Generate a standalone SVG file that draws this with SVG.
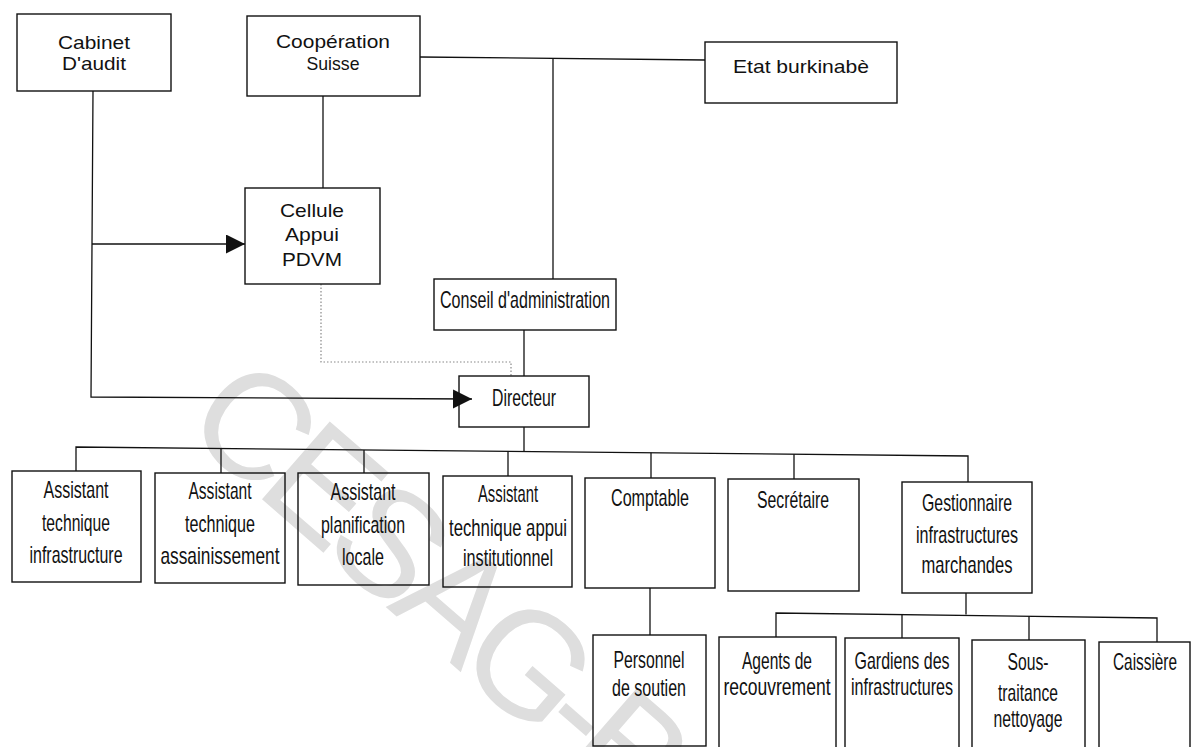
<svg xmlns="http://www.w3.org/2000/svg" width="1200" height="747" viewBox="0 0 1200 747">
  <style>
    .box { fill: none; stroke: #111; stroke-width: 1.4; }
    .ln { fill: none; stroke: #111; stroke-width: 1.3; }
    .dot { fill: none; stroke: #888; stroke-width: 1.2; stroke-dasharray: 1.5 2; }
    text { font-family: "Liberation Sans", Arial, sans-serif; fill: #111; text-anchor: middle; }
    .t { font-size: 19px; }
    .n { font-size: 24px; }
    .wm { font-family: "Liberation Sans", Arial, sans-serif; font-size: 150px; letter-spacing: -12px; fill: #dedede; text-anchor: start; }
  </style>
  <defs>
    <marker id="arrow" markerUnits="userSpaceOnUse" markerWidth="20" markerHeight="20" refX="19" refY="9.5" orient="auto">
      <path d="M0,0 L19,9.5 L0,19 Z" fill="#111"/>
    </marker>
  </defs>

  <rect width="1200" height="747" fill="#fff"/>

  <!-- background stamp -->
  <text class="wm" transform="translate(180,428) rotate(41)">CESAG-BIBLIOTHEQUE</text>

  <!-- connectors -->
  <g id="connectors">
    <path class="ln" d="M420,57 L705,60"/>
    <path class="ln" d="M553,58 V279"/>
    <path class="ln" d="M323,96 V188"/>
    <path class="ln" d="M93,91 L91,397 L472,399" marker-end="url(#arrow)"/>
    <path class="ln" d="M92,244 L245,244" marker-end="url(#arrow)"/>
    <path class="ln" d="M524,330 V376"/>
    <path class="dot" d="M321,284 V362 H511 V376"/>
    <path class="ln" d="M524,427 V451.5"/>
    <path class="ln" d="M76,471 V447 L968,456 V482"/>
    <path class="ln" d="M221,448.5 V473"/>
    <path class="ln" d="M364,449.9 V473"/>
    <path class="ln" d="M508,451.4 V476"/>
    <path class="ln" d="M651,452.8 V478"/>
    <path class="ln" d="M794,454.2 V479"/>
    <path class="ln" d="M650,588 V635"/>
    <path class="ln" d="M966,593 V614.5"/>
    <path class="ln" d="M776,637 V613 L1157,618 V642"/>
    <path class="ln" d="M902,614.6 V638"/>
    <path class="ln" d="M1029,616.3 V640"/>
  </g>

  <g id="cabinet">
    <rect class="box" x="17" y="14" width="154" height="77"/>
    <text class="t" x="94" y="49" textLength="72" lengthAdjust="spacingAndGlyphs">Cabinet</text>
    <text class="t" x="94" y="70" textLength="64" lengthAdjust="spacingAndGlyphs">D'audit</text>
  </g>
  <g id="cooperation">
    <rect class="box" x="247" y="16" width="173" height="80"/>
    <text class="t" x="333" y="48" textLength="114" lengthAdjust="spacingAndGlyphs">Coopération</text>
    <text class="t" x="333" y="70" textLength="53" lengthAdjust="spacingAndGlyphs">Suisse</text>
  </g>
  <g id="etat">
    <rect class="box" x="705" y="42" width="192" height="61"/>
    <text class="t" x="801" y="73" textLength="136" lengthAdjust="spacingAndGlyphs">Etat burkinabè</text>
  </g>
  <g id="cellule">
    <rect class="box" x="245" y="188" width="135" height="96"/>
    <text class="t" x="312" y="217" textLength="64" lengthAdjust="spacingAndGlyphs">Cellule</text>
    <text class="t" x="312" y="241" textLength="54" lengthAdjust="spacingAndGlyphs">Appui</text>
    <text class="t" x="312" y="266" textLength="60" lengthAdjust="spacingAndGlyphs">PDVM</text>
  </g>
  <g id="conseil">
    <rect class="box" x="434" y="279" width="182" height="51"/>
    <text class="n" x="525" y="308" textLength="170" lengthAdjust="spacingAndGlyphs">Conseil d'administration</text>
  </g>
  <g id="directeur">
    <rect class="box" x="459" y="376" width="130" height="51"/>
    <text class="n" x="524" y="406" textLength="64" lengthAdjust="spacingAndGlyphs">Directeur</text>
  </g>

  <g id="assistant-infrastructure">
    <rect class="box" x="12" y="471" width="129" height="111"/>
    <text class="n" x="76" y="498" textLength="65" lengthAdjust="spacingAndGlyphs">Assistant</text>
    <text class="n" x="76" y="531" textLength="68" lengthAdjust="spacingAndGlyphs">technique</text>
    <text class="n" x="76" y="563" textLength="93" lengthAdjust="spacingAndGlyphs">infrastructure</text>
  </g>
  <g id="assistant-assainissement">
    <rect class="box" x="155" y="473" width="130" height="110"/>
    <text class="n" x="220" y="499" textLength="63" lengthAdjust="spacingAndGlyphs">Assistant</text>
    <text class="n" x="220" y="532" textLength="70" lengthAdjust="spacingAndGlyphs">technique</text>
    <text class="n" x="220" y="564" textLength="119" lengthAdjust="spacingAndGlyphs">assainissement</text>
  </g>
  <g id="assistant-planification">
    <rect class="box" x="298" y="473" width="131" height="112"/>
    <text class="n" x="363" y="500" textLength="65" lengthAdjust="spacingAndGlyphs">Assistant</text>
    <text class="n" x="363" y="533" textLength="84" lengthAdjust="spacingAndGlyphs">planification</text>
    <text class="n" x="363" y="565" textLength="42" lengthAdjust="spacingAndGlyphs">locale</text>
  </g>
  <g id="assistant-institutionnel">
    <rect class="box" x="443" y="476" width="129" height="111"/>
    <text class="n" x="508" y="502" textLength="60" lengthAdjust="spacingAndGlyphs">Assistant</text>
    <text class="n" x="508" y="536" textLength="118" lengthAdjust="spacingAndGlyphs">technique appui</text>
    <text class="n" x="508" y="566" textLength="90" lengthAdjust="spacingAndGlyphs">institutionnel</text>
  </g>
  <g id="comptable">
    <rect class="box" x="585" y="478" width="130" height="110"/>
    <text class="n" x="650" y="506" textLength="78" lengthAdjust="spacingAndGlyphs">Comptable</text>
  </g>
  <g id="secretaire">
    <rect class="box" x="728" y="479" width="131" height="112"/>
    <text class="n" x="793" y="508" textLength="72" lengthAdjust="spacingAndGlyphs">Secrétaire</text>
  </g>
  <g id="gestionnaire">
    <rect class="box" x="902" y="482" width="130" height="111"/>
    <text class="n" x="967" y="511" textLength="90" lengthAdjust="spacingAndGlyphs">Gestionnaire</text>
    <text class="n" x="967" y="543" textLength="102" lengthAdjust="spacingAndGlyphs">infrastructures</text>
    <text class="n" x="967" y="573" textLength="91" lengthAdjust="spacingAndGlyphs">marchandes</text>
  </g>

  <g id="personnel">
    <rect class="box" x="593" y="635" width="113" height="111"/>
    <text class="n" x="649" y="668" textLength="71" lengthAdjust="spacingAndGlyphs">Personnel</text>
    <text class="n" x="649" y="696" textLength="74" lengthAdjust="spacingAndGlyphs">de soutien</text>
  </g>
  <g id="agents">
    <rect class="box" x="719" y="637" width="117" height="115"/>
    <text class="n" x="777" y="669" textLength="70" lengthAdjust="spacingAndGlyphs">Agents de</text>
    <text class="n" x="777" y="695" textLength="107" lengthAdjust="spacingAndGlyphs">recouvrement</text>
  </g>
  <g id="gardiens">
    <rect class="box" x="845" y="638" width="114" height="115"/>
    <text class="n" x="902" y="669" textLength="95" lengthAdjust="spacingAndGlyphs">Gardiens des</text>
    <text class="n" x="902" y="695" textLength="102" lengthAdjust="spacingAndGlyphs">infrastructures</text>
  </g>
  <g id="sous-traitance">
    <rect class="box" x="972" y="640" width="113" height="113"/>
    <text class="n" x="1028" y="670" textLength="41" lengthAdjust="spacingAndGlyphs">Sous-</text>
    <text class="n" x="1028" y="701" textLength="60" lengthAdjust="spacingAndGlyphs">traitance</text>
    <text class="n" x="1028" y="727" textLength="69" lengthAdjust="spacingAndGlyphs">nettoyage</text>
  </g>
  <g id="caissiere">
    <rect class="box" x="1099" y="642" width="91" height="112"/>
    <text class="n" x="1145" y="670" textLength="64" lengthAdjust="spacingAndGlyphs">Caissière</text>
  </g>
</svg>
